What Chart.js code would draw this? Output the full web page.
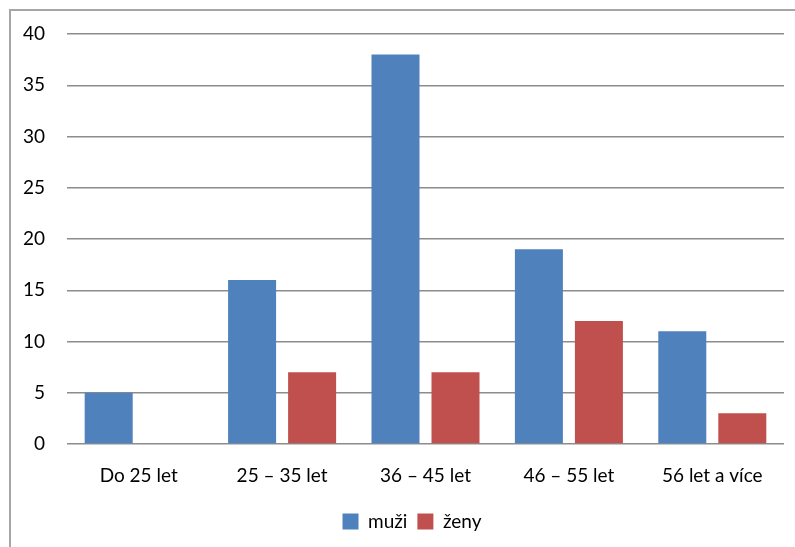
<!DOCTYPE html>
<html>
<head>
<meta charset="utf-8">
<script src="https://cdn.jsdelivr.net/npm/chart.js@4"></script>
<style>
    html, body { margin: 0; padding: 0; background: #fff; overflow: hidden; }
    #wrap { position: relative; width: 795px; height: 547px; }
    #frame {
        position: absolute; left: 9px; top: 9px; width: 820px; height: 580px;
        border: 2px solid #a6a6a6; box-sizing: border-box;
    }
    canvas { position: absolute; left: 0; top: 0; }
</style>
</head>
<body>
<div id="wrap">
    <div id="frame"></div>
    <canvas id="ageChart" width="795" height="547"></canvas>
</div>
<script>
const categories = ["Do 25 let", "25 – 35 let", "36 – 45 let", "46 – 55 let", "56 let a více"];
const muzi = [5, 16, 38, 19, 11];
const zeny = [0, 7, 7, 12, 3];
const yTicks = [0, 5, 10, 15, 20, 25, 30, 35, 40];

const font = { family: "Lato, 'Open Sans', sans-serif", size: 19 };

// legend sits a bit right of the canvas centre in the original
const legendShift = {
    id: "legendShift",
    afterLayout(chart) {
        chart.legend.left += 20;
        chart.legend.right += 20;
    },
};

new Chart(document.getElementById("ageChart"), {
    type: "bar",
    data: {
        labels: categories,
        datasets: [
            {
                label: "muži",
                data: muzi,
                backgroundColor: "#4f81bd",
                borderWidth: 0,
            },
            {
                label: "ženy",
                data: zeny,
                backgroundColor: "#c0504d",
                borderWidth: 0,
            },
        ],
    },
    options: {
        responsive: false,
        animation: false,
        categoryPercentage: 0.837,
        barPercentage: 0.8,
        layout: { padding: { top: 34, right: 11, left: 0, bottom: 6 } },
        scales: {
            x: {
                grid: { display: false },
                border: { display: false },
                ticks: { color: "#000", font: font, padding: 12 },
                afterFit: (scale) => { scale.height = 58; },
            },
            y: {
                min: 0,
                max: 40,
                afterBuildTicks: (scale) => {
                    scale.ticks = yTicks.map((v) => ({ value: v }));
                },
                grid: { color: "#8c8c8c", lineWidth: 1.5, drawTicks: false },
                border: { display: false },
                ticks: { color: "#000", font: font, padding: 22 },
                afterFit: (scale) => { scale.width = 67; },
            },
        },
        plugins: {
            legend: {
                position: "bottom",
                labels: {
                    color: "#000",
                    font: font,
                    boxWidth: 16,
                    boxHeight: 16,
                    padding: 10,
                },
            },
            tooltip: { enabled: false },
        },
    },
    plugins: [legendShift],
});
</script>
</body>
</html>
